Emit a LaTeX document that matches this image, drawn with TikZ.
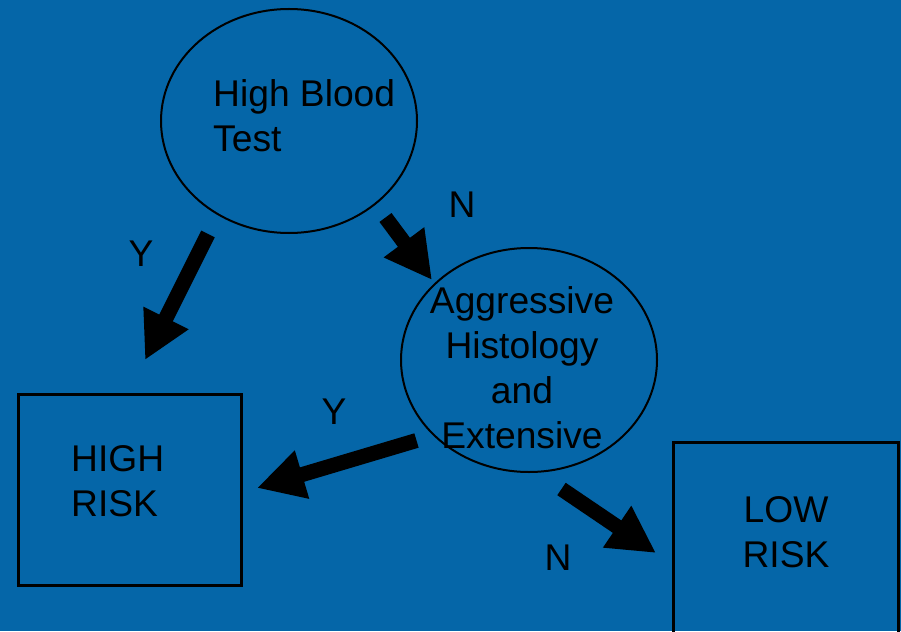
\documentclass[tikz,border=0pt]{standalone}
\usepackage{fontspec}
\setmainfont{Liberation Sans}
\usetikzlibrary{shapes.geometric,arrows.meta}
\definecolor{bg}{RGB}{5,102,168}
\tikzset{
  oval/.style={draw=black,line width=2pt,ellipse,minimum width=256pt,minimum height=224pt,inner sep=0pt},
  riskbox/.style={draw=black,line width=2.5pt,rectangle,inner sep=0pt,anchor=north west},
  txt/.style={font=\fontsize{37.2}{45}\selectfont,text=black,inner sep=0pt},
  fat/.style={line width=15pt,-{Triangle[length=47pt,width=47pt]}}
}
\begin{document}
\begin{tikzpicture}[x=1pt,y=-1pt]
\clip (0,0) rectangle (901,631);
\fill[bg] (0,0) rectangle (901,631);
% shapes
\node[oval] (e1) at (289,121) {};
\node[oval] (e2) at (529,360) {};
\node[riskbox,minimum width=223pt,minimum height=191pt] (hr) at (17,393) {};
\node[riskbox,minimum width=225pt,minimum height=260pt] (lr) at (672,441) {};
% texts
\node[txt,align=left,anchor=north west] (t1) at (213,79) {High Blood\\Test};
\node[txt,align=center,anchor=north] (t2) at (522,286) {Aggressive\\Histology\\and\\Extensive};
\node[txt,align=left,anchor=north west] (t3) at (71,445) {HIGH\\RISK};
\node[txt,align=center,anchor=north] (t4) at (786,496) {LOW\\RISK};
% labels
\node[txt] (y1) at (141,254) {Y};
\node[txt] (n1) at (462,205) {N};
\node[txt] (y2) at (334,412) {Y};
\node[txt] (n2) at (558,558) {N};
% arrow end points
\coordinate (a1s) at (208,234);
\coordinate (a1e) at (145,360);
\coordinate (a2s) at (385.5,217.5);
\coordinate (a2e) at (432,280);
\coordinate (a3s) at (416.5,440.5);
\coordinate (a3e) at (257,488);
\coordinate (a4s) at (561.5,489);
\coordinate (a4e) at (656,553);
\draw[fat] (a1s) -- (a1e);
\draw[fat] (a2s) -- (a2e);
\draw[fat] (a3s) -- (a3e);
\draw[fat] (a4s) -- (a4e);
\end{tikzpicture}
\end{document}
